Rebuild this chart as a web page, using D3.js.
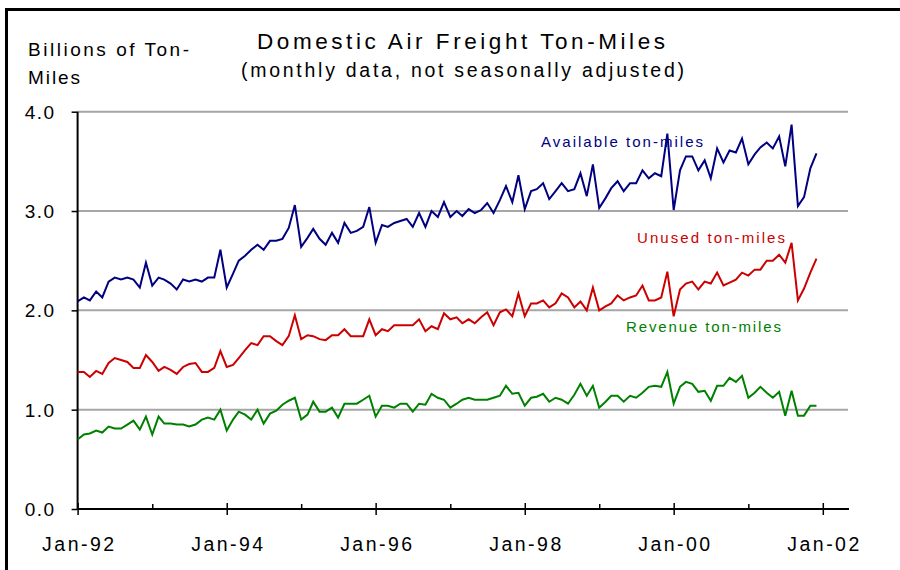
<!DOCTYPE html>
<html>
<head>
<meta charset="utf-8">
<script src="https://cdn.jsdelivr.net/npm/d3@7"></script>
<style>
  html, body { margin: 0; padding: 0; background: #fff; }
  svg { display: block; font-family: "Liberation Sans", Arial, sans-serif; }
</style>
</head>
<body>
<svg id="chart" width="900" height="570"></svg>
<script>
// ---------------- DATA ----------------
const startMonth = "1992-01";          // first monthly observation
const tickYears = [1992, 1994, 1996, 1998, 2000, 2002];
const tickLabels = ["Jan-92", "Jan-94", "Jan-96", "Jan-98", "Jan-00", "Jan-02"];
const minorYears = [1993, 1995, 1997, 1999, 2001];
const yTicks = [0, 1, 2, 3, 4];

const seriesNames = ["Available ton-miles", "Unused ton-miles", "Revenue ton-miles"];

const available = [
  2.09, 2.13, 2.10, 2.19, 2.13, 2.29, 2.33, 2.31, 2.33, 2.31, 2.23, 2.48,
  2.25, 2.33, 2.31, 2.27, 2.21, 2.31, 2.29, 2.31, 2.29, 2.33, 2.33, 2.61,
  2.23, 2.37, 2.50, 2.55, 2.61, 2.66, 2.61, 2.70, 2.70, 2.72, 2.83, 3.06,
  2.64, 2.73, 2.82, 2.72, 2.66, 2.78, 2.68, 2.88, 2.78, 2.80, 2.84, 3.04,
  2.68, 2.86, 2.84, 2.88, 2.90, 2.92, 2.84, 2.98, 2.84, 3.00, 2.94, 3.09,
  2.94, 3.00, 2.95, 3.02, 2.98, 3.01, 3.08, 2.98, 3.11, 3.25, 3.09, 3.36,
  3.02, 3.20, 3.22, 3.28, 3.12, 3.20, 3.28, 3.20, 3.22, 3.38, 3.15, 3.47,
  3.03, 3.13, 3.23, 3.30, 3.20, 3.28, 3.28, 3.41, 3.33, 3.38, 3.35, 3.78,
  3.01, 3.41, 3.55, 3.55, 3.41, 3.51, 3.33, 3.63, 3.49, 3.61, 3.59, 3.73,
  3.47, 3.57, 3.64, 3.69, 3.63, 3.75, 3.45, 3.87, 3.05, 3.14, 3.43, 3.58
];

const unused = [
  1.38, 1.38, 1.33, 1.39, 1.36, 1.47, 1.52, 1.50, 1.48, 1.42, 1.42, 1.55,
  1.48, 1.39, 1.43, 1.40, 1.36, 1.43, 1.46, 1.47, 1.38, 1.38, 1.42, 1.59,
  1.43, 1.45, 1.52, 1.60, 1.67, 1.65, 1.74, 1.74, 1.69, 1.65, 1.74, 1.95,
  1.71, 1.75, 1.74, 1.71, 1.70, 1.75, 1.75, 1.81, 1.74, 1.74, 1.74, 1.91,
  1.75, 1.81, 1.79, 1.85, 1.85, 1.85, 1.85, 1.91, 1.79, 1.84, 1.81, 1.97,
  1.91, 1.93, 1.87, 1.91, 1.87, 1.93, 1.98, 1.85, 1.98, 2.01, 1.94, 2.17,
  1.94, 2.07, 2.07, 2.10, 2.03, 2.07, 2.17, 2.13, 2.03, 2.09, 2.00, 2.23,
  2.00, 2.04, 2.07, 2.15, 2.10, 2.13, 2.15, 2.25, 2.10, 2.10, 2.13, 2.39,
  1.94, 2.21, 2.27, 2.29, 2.21, 2.29, 2.27, 2.38, 2.25, 2.28, 2.31, 2.38,
  2.35, 2.41, 2.41, 2.50, 2.50, 2.56, 2.48, 2.68, 2.10, 2.22, 2.38, 2.52
];

const revenue = [
  0.70, 0.75, 0.76, 0.79, 0.77, 0.83, 0.81, 0.81, 0.85, 0.89, 0.80, 0.93,
  0.75, 0.93, 0.86, 0.86, 0.85, 0.85, 0.83, 0.85, 0.90, 0.92, 0.90, 1.00,
  0.79, 0.90, 0.98, 0.95, 0.90, 1.00, 0.86, 0.96, 0.99, 1.05, 1.09, 1.12,
  0.90, 0.95, 1.08, 0.98, 0.98, 1.02, 0.92, 1.06, 1.06, 1.06, 1.10, 1.14,
  0.93, 1.04, 1.04, 1.02, 1.06, 1.06, 0.98, 1.06, 1.05, 1.16, 1.12, 1.10,
  1.02, 1.06, 1.10, 1.12, 1.10, 1.10, 1.10, 1.12, 1.14, 1.24, 1.16, 1.17,
  1.04, 1.12, 1.13, 1.16, 1.08, 1.12, 1.10, 1.06, 1.15, 1.26, 1.14, 1.24,
  1.02, 1.08, 1.14, 1.14, 1.08, 1.14, 1.12, 1.17, 1.23, 1.24, 1.23, 1.38,
  1.06, 1.23, 1.28, 1.26, 1.18, 1.19, 1.09, 1.24, 1.24, 1.32, 1.28, 1.34,
  1.12, 1.17, 1.23, 1.17, 1.12, 1.18, 0.94, 1.19, 0.94, 0.94, 1.04, 1.04
];

// ---------------- LAYOUT ----------------
const svg = d3.select("#chart");
const X0 = 77.6, X1 = 822.8, XEND = 849;
const Y0 = 509, Y1 = 111.7;
const colors = ["#000080", "#cc0000", "#008000"];
const FONT = '"Liberation Sans", Arial, sans-serif';

const parseM = d3.timeParse("%Y-%m");
const t0 = parseM(startMonth);
const monthDate = i => d3.timeMonth.offset(t0, i);

const x = d3.scaleTime()
  .domain([new Date(tickYears[0], 0, 1), new Date(tickYears[tickYears.length - 1], 0, 1)])
  .range([X0, X1]);
const y = d3.scaleLinear().domain([0, 4]).range([Y0, Y1]);

// frame
svg.append("path")
  .attr("d", "M6.5,570 V9.5 H900")
  .attr("fill", "none").attr("stroke", "#000").attr("stroke-width", 3);

// gridlines
svg.append("g").selectAll("line")
  .data(yTicks.filter(d => d > 0))
  .join("line")
  .attr("x1", X0).attr("x2", XEND - 1)
  .attr("y1", d => y(d)).attr("y2", d => y(d))
  .attr("stroke", "#a6a6a6").attr("stroke-width", 2);

// y axis
const yAxis = svg.append("g")
  .attr("transform", `translate(${X0},0)`)
  .call(d3.axisLeft(y).tickValues(yTicks).tickFormat(d3.format(".1f")).tickSize(6).tickPadding(16));
yAxis.select(".domain").remove();
yAxis.selectAll(".tick line").attr("stroke", "#000").attr("stroke-width", 1.5);
yAxis.selectAll(".tick text")
  .attr("font-family", FONT).attr("font-size", 19).attr("fill", "#000")
  .attr("letter-spacing", 1.5).attr("dy", "0.34em");
yAxis.append("line")
  .attr("x1", 0).attr("x2", 0).attr("y1", Y1).attr("y2", Y0)
  .attr("stroke", "#000").attr("stroke-width", 2);

// x axis (major ticks with labels)
const xAxis = svg.append("g")
  .attr("transform", `translate(0,${Y0})`)
  .call(d3.axisBottom(x)
    .tickValues(tickYears.map(yr => new Date(yr, 0, 1)))
    .tickFormat((d, i) => tickLabels[i])
    .tickSize(6).tickPadding(22));
xAxis.select(".domain").remove();
xAxis.selectAll(".tick line").attr("y1", -6).attr("y2", 6).attr("stroke", "#000").attr("stroke-width", 1.5);
xAxis.selectAll(".tick text")
  .attr("font-family", FONT).attr("font-size", 19.5).attr("fill", "#000")
  .attr("textLength", 72).attr("lengthAdjust", "spacing");

// minor ticks
const xMinor = svg.append("g")
  .attr("transform", `translate(0,${Y0})`)
  .call(d3.axisBottom(x)
    .tickValues(minorYears.map(yr => new Date(yr, 0, 1)))
    .tickFormat("").tickSize(0));
xMinor.select(".domain").remove();
xMinor.selectAll(".tick line").attr("y1", -5).attr("y2", 0).attr("stroke", "#000").attr("stroke-width", 1.5);

svg.append("line")
  .attr("x1", X0).attr("x2", XEND).attr("y1", Y0).attr("y2", Y0)
  .attr("stroke", "#000").attr("stroke-width", 2);

// series lines
const line = d3.line()
  .x((d, i) => x(monthDate(i)))
  .y(d => y(d));

[available, unused, revenue].forEach((vals, k) => {
  svg.append("path")
    .datum(vals)
    .attr("d", line)
    .attr("fill", "none")
    .attr("stroke", colors[k])
    .attr("stroke-width", 2)
    .attr("stroke-linejoin", "miter");
});

// series labels
const labelPos = [
  { x: 541, y: 147, w: 162 },
  { x: 637, y: 243, w: 148 },
  { x: 626, y: 332, w: 155 }
];
seriesNames.forEach((name, k) => {
  svg.append("text")
    .attr("x", labelPos[k].x).attr("y", labelPos[k].y)
    .attr("font-family", FONT).attr("font-size", 15)
    .attr("fill", colors[k])
    .attr("textLength", labelPos[k].w).attr("lengthAdjust", "spacing")
    .text(name);
});

// titles
svg.append("text")
  .attr("x", 257).attr("y", 49)
  .attr("font-family", FONT).attr("font-size", 22.5).attr("fill", "#000")
  .attr("textLength", 408).attr("lengthAdjust", "spacing")
  .text("Domestic Air Freight Ton-Miles");
svg.append("text")
  .attr("x", 241).attr("y", 77)
  .attr("font-family", FONT).attr("font-size", 19.5).attr("fill", "#000")
  .attr("textLength", 443).attr("lengthAdjust", "spacing")
  .text("(monthly data, not seasonally adjusted)");

// y axis title (two lines)
svg.append("text")
  .attr("x", 28).attr("y", 56)
  .attr("font-family", FONT).attr("font-size", 19).attr("fill", "#000")
  .attr("textLength", 161).attr("lengthAdjust", "spacing")
  .text("Billions of Ton-");
svg.append("text")
  .attr("x", 28).attr("y", 84)
  .attr("font-family", FONT).attr("font-size", 19).attr("fill", "#000")
  .attr("textLength", 52).attr("lengthAdjust", "spacing")
  .text("Miles");
</script>
</body>
</html>
